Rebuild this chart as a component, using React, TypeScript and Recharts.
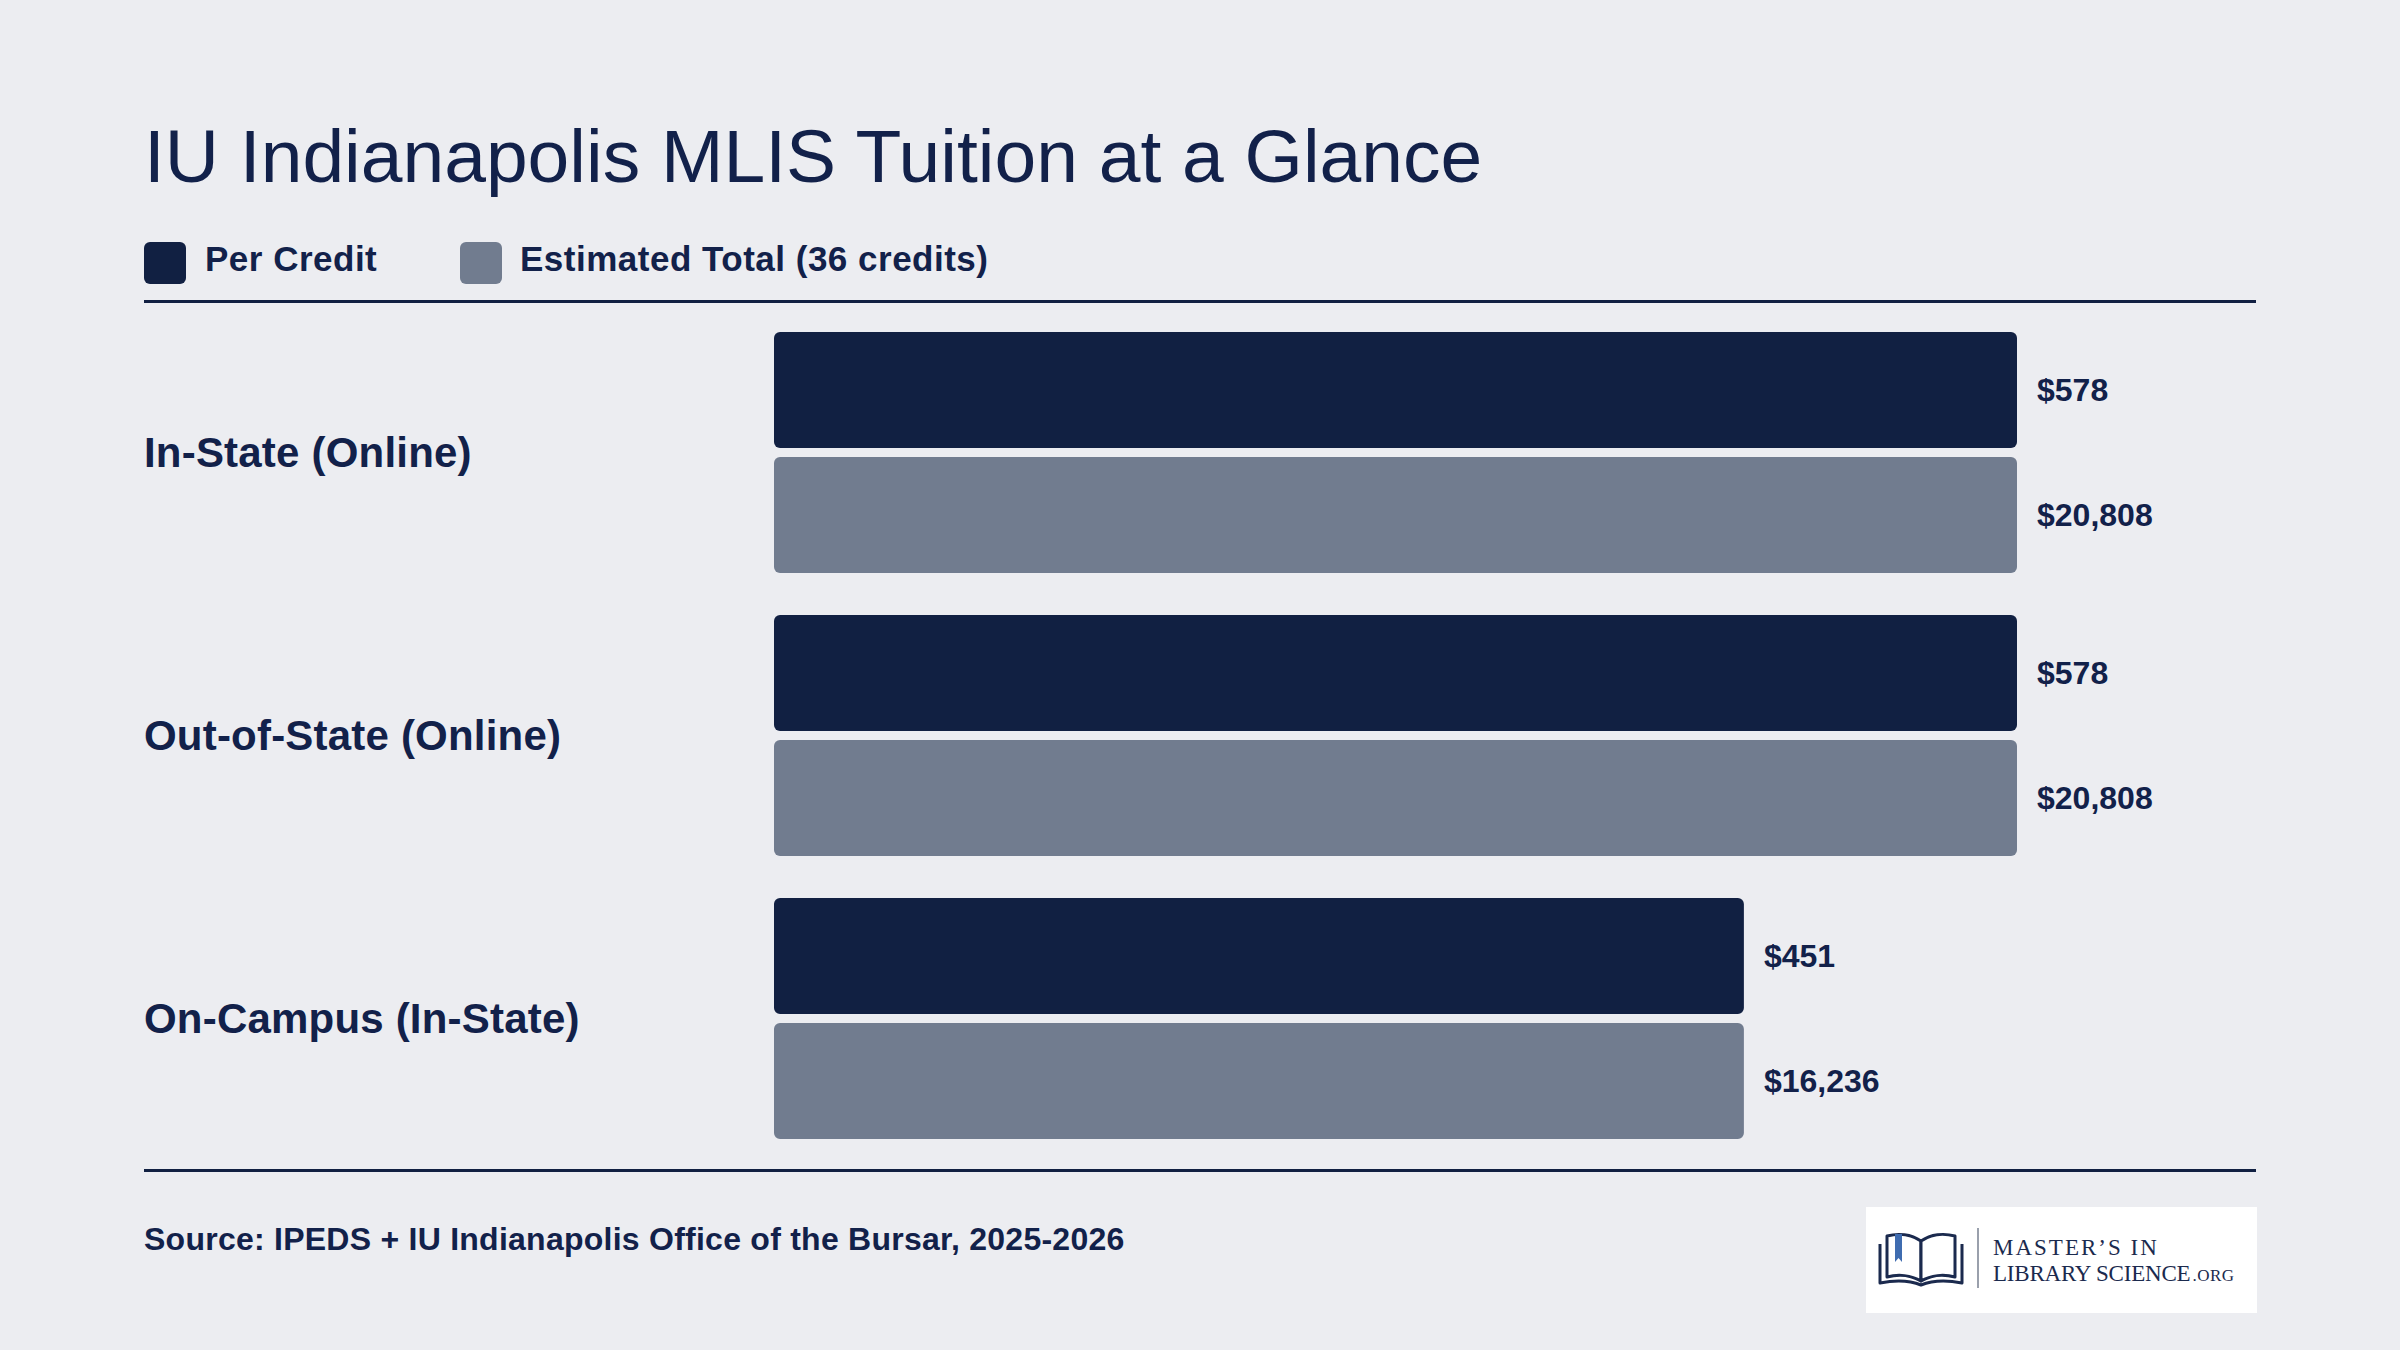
import React from "react"
import { BarChart, Bar, XAxis, YAxis, LabelList } from "recharts"

const categories = ["In-State (Online)", "Out-of-State (Online)", "On-Campus (In-State)"]
const perCredit = [578, 578, 451]
const estimatedTotal = [20808, 20808, 16236]
const seriesNames = ["Per Credit", "Estimated Total (36 credits)"]

const NAVY = "#112042"
const GRAY = "#717C8F"
const TEXT = "#12214A"
const BG = "#ECEDF1"
const FONT = '"Liberation Sans", Arial, Helvetica, sans-serif'
const SERIF = '"Liberation Serif", "DejaVu Serif", serif'

const data = categories.map((name, i) => ({
  name,
  perCredit: perCredit[i],
  estimatedTotal: estimatedTotal[i],
}))

const money = (v: unknown) => `$${Number(v).toLocaleString("en-US")}`

const CategoryTick = (props: any) => {
  const { y, payload } = props
  return (
    <text
      x={144}
      y={y}
      textAnchor="start"
      dominantBaseline="central"
      fill={TEXT}
      fontSize={42}
      fontWeight={700}
      fontFamily={FONT}
      letterSpacing={0.2}
    >
      {payload.value}
    </text>
  )
}

function Logo() {
  return (
    <div style={{ position: "absolute", left: 1866, top: 1207, width: 391, height: 106, background: "#ffffff" }}>
      <svg width={391} height={106}>
        <g transform="translate(10,23)" fill="none" stroke="#1B2A4E" strokeWidth={3} strokeLinejoin="round">
          <path d="M4,14 L4,53 C20,50 35,51 45,55 C55,51 70,50 86,53 L86,14" />
          <path d="M45,11 C35,4 22,3 11,6 L11,47 C22,44 35,45 45,51 Z" fill="#fff" />
          <path d="M45,11 C55,4 68,3 79,6 L79,47 C68,44 55,45 45,51 Z" fill="#fff" />
          <path d="M19,4 L26,4 L26,32 L22.5,28 L19,32 Z" fill="#3F6CB0" stroke="none" />
        </g>
        <line x1={112} y1={21} x2={112} y2={81} stroke="#9AA0AC" strokeWidth={2} />
        <text x={127} y={48} fontFamily={SERIF} fontSize={23} fill="#1B2A4E" letterSpacing={2}>
          MASTER’S IN
        </text>
        <text x={127} y={74} fontFamily={SERIF} fontSize={23} fill="#1B2A4E" letterSpacing={-0.2}>
          <tspan>LIBRARY SCIENCE</tspan>
          <tspan fontSize={17} dx={2} letterSpacing={0.5}>.ORG</tspan>
        </text>
      </svg>
    </div>
  )
}

export default function App() {
  return (
    <div
      style={{
        position: "absolute",
        left: 0,
        top: 0,
        width: 2400,
        height: 1350,
        background: BG,
        fontFamily: FONT,
        color: TEXT,
        overflow: "hidden",
      }}
    >
      <div style={{ position: "absolute", left: 144, top: 119, fontSize: 75, lineHeight: 1, fontWeight: 400, whiteSpace: "nowrap" }}>
        IU Indianapolis MLIS Tuition at a Glance
      </div>

      {seriesNames.map((s, i) => (
        <React.Fragment key={s}>
          <div
            style={{
              position: "absolute",
              left: i === 0 ? 144 : 460,
              top: 242,
              width: 42,
              height: 42,
              borderRadius: 6,
              background: i === 0 ? NAVY : GRAY,
            }}
          />
          <div
            style={{
              position: "absolute",
              left: i === 0 ? 205 : 520,
              top: 241,
              fontSize: 35,
              letterSpacing: 0.5,
              lineHeight: 1,
              fontWeight: 700,
              whiteSpace: "nowrap",
            }}
          >
            {s}
          </div>
        </React.Fragment>
      ))}

      <div style={{ position: "absolute", left: 144, top: 300, width: 2112, height: 3, background: NAVY }} />
      <div style={{ position: "absolute", left: 144, top: 1169, width: 2112, height: 3, background: NAVY }} />

      <div style={{ position: "absolute", left: 0, top: 0 }}>
        <BarChart
          width={2400}
          height={1350}
          data={data}
          layout="vertical"
          margin={{ top: 311, right: 383, bottom: 190, left: 144 }}
          barGap={9}
          barCategoryGap={21}
        >
          <XAxis type="number" xAxisId="credit" hide domain={[0, Math.max(...perCredit)]} />
          <XAxis type="number" xAxisId="total" hide domain={[0, Math.max(...estimatedTotal)]} />
          <YAxis
            type="category"
            dataKey="name"
            width={630}
            axisLine={false}
            tickLine={false}
            tick={<CategoryTick />}
          />
          <Bar dataKey="perCredit" name={seriesNames[0]} xAxisId="credit" fill={NAVY} barSize={116} radius={6} isAnimationActive={false}>
            <LabelList
              dataKey="perCredit"
              position="right"
              offset={20}
              formatter={money}
              fill={TEXT}
              fontSize={32}
              fontWeight={700}
              fontFamily={FONT}
            />
          </Bar>
          <Bar dataKey="estimatedTotal" name={seriesNames[1]} xAxisId="total" fill={GRAY} barSize={116} radius={6} isAnimationActive={false}>
            <LabelList
              dataKey="estimatedTotal"
              position="right"
              offset={20}
              formatter={money}
              fill={TEXT}
              fontSize={32}
              fontWeight={700}
              fontFamily={FONT}
            />
          </Bar>
        </BarChart>
      </div>

      <div style={{ position: "absolute", left: 144, top: 1223, fontSize: 32, letterSpacing: 0.25, lineHeight: 1, fontWeight: 700, whiteSpace: "nowrap" }}>
        Source: IPEDS + IU Indianapolis Office of the Bursar, 2025-2026
      </div>

      <Logo />
    </div>
  )
}
